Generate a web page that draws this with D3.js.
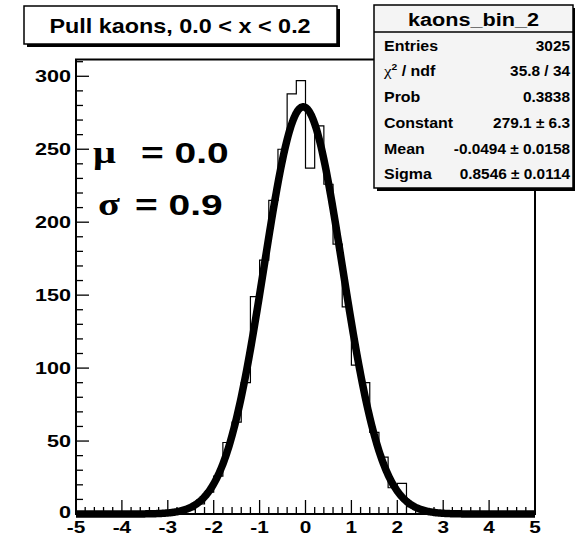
<!DOCTYPE html>
<html><head><meta charset="utf-8">
<script src="https://cdn.jsdelivr.net/npm/d3@7"></script>
<style>html,body{margin:0;padding:0;background:#fff}svg{display:block}</style>
</head><body>
<svg id="c" width="575" height="537"></svg>
<script>
// ---- data ----
const binLow = -5, binWidth = 0.2;
const counts = [0,0,0,0,0,0,0,0,0,1,
                1,2,3,7,15,26,49,63,90,149,
                174,215,250,288,297,237,266,226,185,142,
                102,90,56,39,18,21,5,3,1,1,
                0,0,0,0,0,0,0,0,0,0];
const xTicks = [-5,-4,-3,-2,-1,0,1,2,3,4,5];
const yTicks = [0,50,100,150,200,250,300];
const fitConstant = 279.1, fitMean = -0.0494, fitSigma = 0.8546;
const statLabels = ["Entries","χ² / ndf","Prob","Constant","Mean","Sigma"];
const statValues = ["3025","35.8 / 34","0.3838","279.1 ± 6.3","-0.0494 ± 0.0158","0.8546 ± 0.0114"];
const titleText = "Pull kaons, 0.0 < x < 0.2";
const statTitle = "kaons_bin_2";

const svg = d3.select("#c");
const F = "'Liberation Sans', Arial, Helvetica, sans-serif";
const L = 76, R = 535, T = 59.5, B = 514;
const x = d3.scaleLinear().domain([-5,5]).range([L,R]);
const y = d3.scaleLinear().domain([0,311.5]).range([B,T]);

function txt(g, s, px, py, size, sx, anchor, weight, family){
  return g.append("text").attr("transform",`translate(${px},${py}) scale(${sx},1)`)
    .attr("text-anchor",anchor||"start").attr("font-family",family||F)
    .attr("font-weight",weight||"bold").attr("font-size",size).attr("fill","#000").text(s);
}

// histogram outline
const bins = counts.map((c,i)=>({x0:binLow+i*binWidth,x1:binLow+(i+1)*binWidth,c}));
let d = `M${x(bins[0].x0)},${y(0)}`;
bins.forEach(b=>{ d += `L${x(b.x0)},${y(b.c)}L${x(b.x1)},${y(b.c)}`; });
d += `L${x(bins[bins.length-1].x1)},${y(0)}`;
svg.append("path").attr("d",d).attr("fill","none").attr("stroke","#000").attr("stroke-width",1.2);

// fit curve
svg.append("clipPath").attr("id","fr").append("rect").attr("x",L).attr("y",T).attr("width",R-L+4).attr("height",B-T+4);
const xs = d3.range(0,501).map(i=>-5+i*0.02);
const gauss = v => fitConstant*Math.exp(-0.5*((v-fitMean)/fitSigma)**2);
svg.append("path").attr("clip-path","url(#fr)")
  .attr("d",d3.line().x(v=>x(v)).y(v=>y(gauss(v))).curve(d3.curveLinear)(xs))
  .attr("fill","none").attr("stroke","#000").attr("stroke-width",7.5).attr("stroke-linejoin","round");

// axes (ROOT style ticks inside)
const xMinor = d3.range(0,51).map(i=>-5+i*0.2);
const yMinor = d3.range(0,32).map(i=>i*10);
const ax = svg.append("g").attr("stroke","#000");
xMinor.forEach((v,i)=>{ const major = i%5===0; ax.append("line").attr("x1",x(v)).attr("x2",x(v)).attr("y1",B).attr("y2",B-(major?14:7)).attr("stroke-width",1.3); });
yMinor.forEach((v,i)=>{ const major = i%5===0; ax.append("line").attr("x1",L).attr("x2",L+(major?13:7)).attr("y1",y(v)).attr("y2",y(v)).attr("stroke-width",1.3); });
svg.append("rect").attr("x",L).attr("y",T).attr("width",R-L).attr("height",B-T).attr("fill","none").attr("stroke","#000").attr("stroke-width",2);

const lab = svg.append("g");
xTicks.forEach(v=>txt(lab, v<0?"-"+Math.abs(v):String(v), x(v), 532.5, 16, 1.3, "middle"));
yTicks.forEach(v=>txt(lab, String(v), 71, y(v)+(v===0?4:6), 16, 1.35, "end"));

// mu / sigma annotation
const a = svg.append("g");
txt(a,"μ",93,163,31,1.3,"start","bold","'Liberation Serif', 'DejaVu Serif', serif");
txt(a,"= 0.0",141,163,29.5,1.32,"start","bold");
txt(a,"σ",98,215,31,1.3,"start","bold","'Liberation Serif', 'DejaVu Serif', serif");
txt(a,"= 0.9",135,215,29.5,1.32,"start","bold");

// title box
svg.append("rect").attr("x",27).attr("y",9).attr("width",313).attr("height",38).attr("fill","#000");
svg.append("rect").attr("x",24).attr("y",6).attr("width",313).attr("height",38).attr("fill","#fff").attr("stroke","#000").attr("stroke-width",1.5);
txt(svg,titleText,180,32.5,20,1.17,"middle");

// stats box
const sL=374, sT=5, sR=573, sB=188;
svg.append("rect").attr("x",sL+3).attr("y",sT+3).attr("width",sR-sL).attr("height",sB-sT).attr("fill","#000");
svg.append("rect").attr("x",sL).attr("y",sT).attr("width",sR-sL).attr("height",sB-sT).attr("fill","#f4f4f4").attr("stroke","#000").attr("stroke-width",1.5);
svg.append("line").attr("x1",sL).attr("x2",sR).attr("y1",32).attr("y2",32).attr("stroke","#000").attr("stroke-width",1.5);
txt(svg,statTitle,(sL+sR)/2,26,19,1.14,"middle");
statLabels.forEach((s,i)=>{
  const py = 50.7 + i*25.7;
  if(i===1){
    const t = svg.append("text").attr("transform",`translate(384,${py}) scale(1.14,1)`).attr("font-family",F).attr("font-weight","bold").attr("font-size",14);
    t.append("tspan").attr("font-family","'Liberation Serif', serif").attr("font-weight","normal").attr("font-size",15).text("χ");
    t.append("tspan").attr("font-size",9).attr("dy",-6).text("2");
    t.append("tspan").attr("dy",6).text(" / ndf");
  } else txt(svg,s,384,py,14,1.14,"start");
  txt(svg,statValues[i],570,py,14,1.1,"end");
});
</script>
</body></html>
